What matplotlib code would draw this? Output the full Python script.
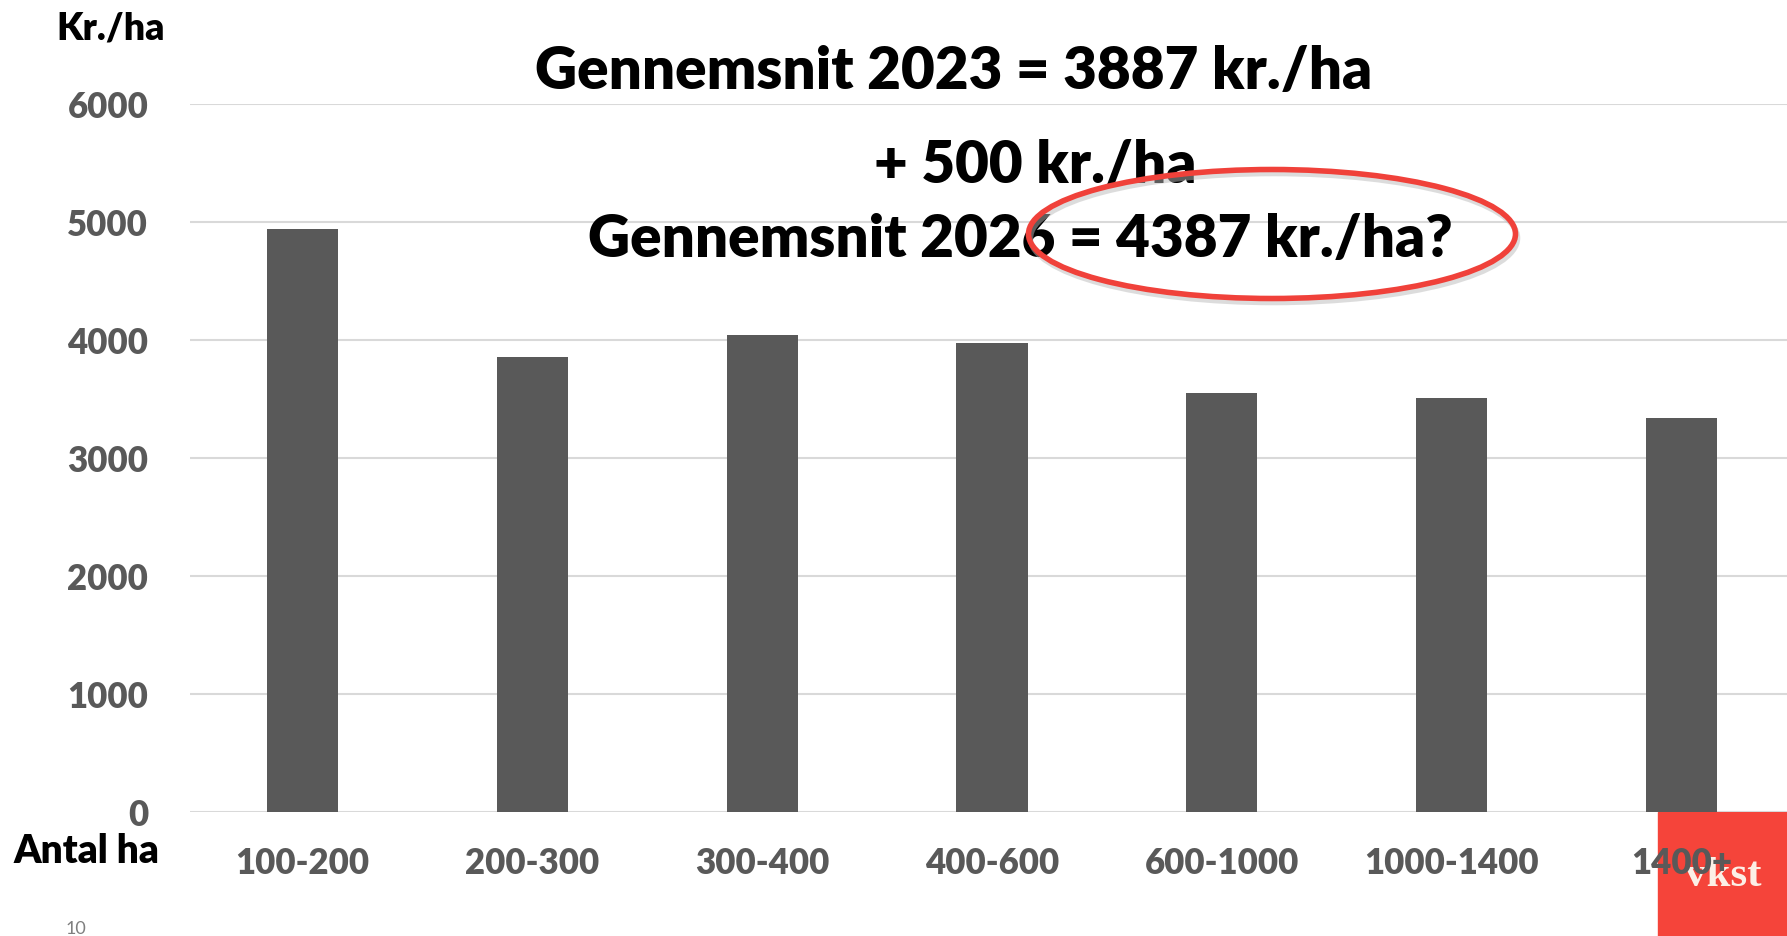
import matplotlib
matplotlib.use("Agg")
import matplotlib.pyplot as plt
from matplotlib.patches import Ellipse, Rectangle

categories = ["100-200", "200-300", "300-400", "400-600", "600-1000", "1000-1400", "1400+"]
values = [4940, 3850, 4040, 3970, 3545, 3510, 3340]
yticks = [0, 1000, 2000, 3000, 4000, 5000, 6000]

plt.rcParams['font.family'] = ['Lato', 'DejaVu Sans']

fig = plt.figure(figsize=(17.87, 9.37), dpi=100)
ax = fig.add_axes([190/1787, 1 - 812.7/937, 1 - 190/1787, (812.7 - 104.7)/937])
ax.set_zorder(2)
ax.patch.set_visible(False)

ax.bar(range(len(categories)), values, width=0.31, color="#595959", zorder=2)
ax.set_xlim(-0.49, 6.46)
ax.set_ylim(0, 6000)
ax.set_yticks(yticks)
ax.set_yticklabels([str(v) for v in yticks])
ax.set_xticks(range(len(categories)))
ax.set_xticklabels(categories)
ax.grid(axis="y", color="#D9D9D9", linewidth=1.5, zorder=0)
for s in ax.spines.values():
    s.set_visible(False)
ax.tick_params(axis="both", length=0, labelsize=25, labelcolor="#595959")
ax.tick_params(axis="y", pad=30)
ax.tick_params(axis="x", pad=25)
for lab in ax.get_xticklabels() + ax.get_yticklabels():
    lab.set_fontweight("heavy")

# logo box bottom right
fig.patches.append(Rectangle((1658/1787, 0), 1 - 1658/1787, 1 - 813/937,
                             transform=fig.transFigure, color="#F5443A", zorder=0))
fig.text(1723/1787, 1 - 876/937, "vkst", color="#FCEFE6", fontsize=31,
         family="Liberation Serif", fontweight="bold", ha="center", va="center", zorder=1)

# labels
fig.text(111/1787, 1 - 28/937, "Kr./ha", fontsize=27, fontweight="heavy", ha="center", va="center")
fig.text(86/1787, 1 - 852/937, "Antal ha", fontsize=28, fontweight="heavy", ha="center", va="center")
fig.text(76/1787, 1 - 929/937, "10", fontsize=13, color="#7F7F7F", ha="center", va="center")

fig.text(954/1787, 1 - 71/937, "Gennemsnit 2023 = 3887 kr./ha", fontsize=42,
         fontweight="heavy", ha="center", va="center")
fig.text(1035/1787, 1 - 165/937, "+ 500 kr./ha", fontsize=42,
         fontweight="heavy", ha="center", va="center")
fig.text(1020/1787, 1 - 239/937, "Gennemsnit 2026 = 4387 kr./ha?", fontsize=42,
         fontweight="heavy", ha="center", va="center")

# red ellipse with faint shadow
shadow = Ellipse((1274/1787, 1 - 239/937), 487/1787, 129/937, transform=fig.transFigure,
                 fill=False, edgecolor="#BBBBBB", alpha=0.5, linewidth=4, zorder=5)
fig.patches.append(shadow)
ell = Ellipse((1272/1787, 1 - 235/937), 487/1787, 129/937, transform=fig.transFigure,
              fill=False, edgecolor="#F0413A", linewidth=4, zorder=6)
fig.patches.append(ell)

fig.savefig("out.png", dpi=100)
